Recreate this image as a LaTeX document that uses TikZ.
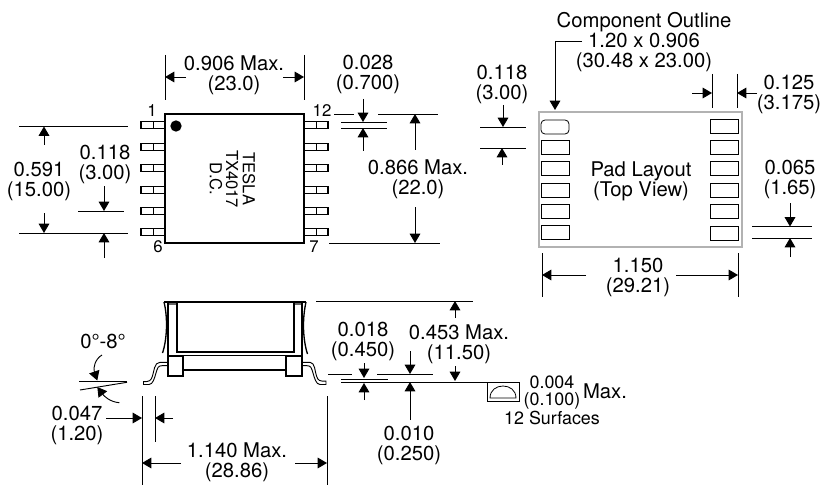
\documentclass[tikz,border=0pt]{standalone}
\usepackage{fontspec}
\setmainfont{TeX Gyre Heros}
\usetikzlibrary{arrows.meta}
\tikzset{
  dimtext/.style={align=center,inner sep=0pt,font=\fontsize{15.2}{15}\selectfont},
  smalltext/.style={align=center,inner sep=0pt,font=\fontsize{13.4}{12.6}\selectfont},
  chiptext/.style={inner sep=0pt,font=\fontsize{12.4}{12.4}\selectfont},
  pintext/.style={inner sep=0pt,font=\fontsize{12.6}{12.6}\selectfont},
  dimline/.style={line width=0.7pt},
  dimarrow/.style={line width=0.7pt,-{Triangle[length=7pt,width=8pt]}},
  bodyline/.style={line width=1pt},
  solderpad/.style={shape=rectangle,draw=black,line width=1pt,inner sep=0pt,minimum width=18pt,minimum height=5.25pt,
    path picture={\draw[line width=0.5pt] (path picture bounding box.north) -- (path picture bounding box.south);}},
  layoutpad/.style={shape=rectangle,draw=black,line width=0.6pt,inner sep=0pt,minimum width=21pt,minimum height=10.5pt},
}
\begin{document}
\begin{tikzpicture}[x=0.75pt,y=-0.75pt]
    \useasboundingbox (0,0) rectangle (822,485);
    % top view of the part
    \node[shape=rectangle,draw=black,bodyline,minimum width=104.25pt,minimum height=96.75pt] (body) at (234.5,178.5) {};
    \node[shape=circle,fill=black,inner sep=0pt,minimum size=8.5pt] (dot) at (176,126) {};
    \node[rotate=-90,chiptext] (tesla) at (249,179) {TESLA};
    \node[rotate=-90,chiptext] (tx) at (232,179) {TX4017};
    \node[rotate=-90,chiptext] (dc) at (216,179) {D.C.};
    \node[solderpad] (L1) at (153,125) {};
    \node[solderpad] (L2) at (153,147) {};
    \node[solderpad] (L3) at (153,168) {};
    \node[solderpad] (L4) at (153,190) {};
    \node[solderpad] (L5) at (153,211) {};
    \node[solderpad] (L6) at (153,232) {};
    \node[solderpad] (R1) at (316,125) {};
    \node[solderpad] (R2) at (316,147) {};
    \node[solderpad] (R3) at (316,168) {};
    \node[solderpad] (R4) at (316,190) {};
    \node[solderpad] (R5) at (316,211) {};
    \node[solderpad] (R6) at (316,232) {};
    \node[pintext] (pinA) at (152,111) {1};
    \node[pintext] (pinB) at (158,247) {6};
    \node[pintext] (pinC) at (322,111) {12};
    \node[pintext] (pinD) at (314,247) {7};
    % dimensions of the top view
    \node[dimtext] (w1) at (234,75) {0.906 Max.\\(23.0)};
    \coordinate (w1a) at (165,55);
    \coordinate (w1b) at (165,100);
    \coordinate (w1c) at (304,55);
    \coordinate (w1d) at (304,100);
    \coordinate (w1e) at (186,77);
    \coordinate (w1f) at (165,77);
    \coordinate (w1g) at (283,77);
    \coordinate (w1h) at (304,77);
    \path [dimline] (w1a) edge node {} (w1b);
    \path [dimline] (w1c) edge node {} (w1d);
    \path [dimarrow] (w1e) edge node {} (w1f);
    \path [dimarrow] (w1g) edge node {} (w1h);
    \node[dimtext] (h1) at (39,181) {0.591\\(15.00)};
    \coordinate (h1a) at (19,126.5);
    \coordinate (h1b) at (128,126.5);
    \coordinate (h1c) at (19,233);
    \coordinate (h1d) at (128,233);
    \coordinate (h1e) at (44,145);
    \coordinate (h1f) at (44,126.5);
    \coordinate (h1g) at (44,213);
    \coordinate (h1h) at (44,233);
    \path [dimline] (h1a) edge node {} (h1b);
    \path [dimline] (h1c) edge node {} (h1d);
    \path [dimarrow] (h1e) edge node {} (h1f);
    \path [dimarrow] (h1g) edge node {} (h1h);
    \node[dimtext] (p1) at (105,164) {0.118\\(3.00)};
    \coordinate (p1a) at (78,211);
    \coordinate (p1b) at (124,211);
    \coordinate (p1c) at (104,186);
    \coordinate (p1d) at (104,211);
    \coordinate (p1e) at (104,258);
    \coordinate (p1f) at (104,233);
    \path [dimline] (p1a) edge node {} (p1b);
    \path [dimarrow] (p1c) edge node {} (p1d);
    \path [dimarrow] (p1e) edge node {} (p1f);
    \node[dimtext] (t1) at (368,74) {0.028\\(0.700)};
    \coordinate (t1a) at (341,122);
    \coordinate (t1b) at (387,122);
    \coordinate (t1c) at (341,128);
    \coordinate (t1d) at (387,128);
    \coordinate (t1e) at (363,99);
    \coordinate (t1f) at (363,122);
    \coordinate (t1g) at (363,151);
    \coordinate (t1h) at (363,128);
    \path [dimline] (t1a) edge node {} (t1b);
    \path [dimline] (t1c) edge node {} (t1d);
    \path [dimarrow] (t1e) edge node {} (t1f);
    \path [dimarrow] (t1g) edge node {} (t1h);
    \node[dimtext] (h2) at (418,179) {0.866 Max.\\(22.0)};
    \coordinate (h2a) at (334,114);
    \coordinate (h2b) at (354,114);
    \coordinate (h2c) at (378,114);
    \coordinate (h2d) at (438,114);
    \coordinate (h2e) at (329,243);
    \coordinate (h2f) at (440,243);
    \coordinate (h2g) at (415,150);
    \coordinate (h2h) at (415,114);
    \coordinate (h2i) at (415,207);
    \coordinate (h2j) at (415,243);
    \path [dimline] (h2a) edge node {} (h2b);
    \path [dimline] (h2c) edge node {} (h2d);
    \path [dimline] (h2e) edge node {} (h2f);
    \path [dimarrow] (h2g) edge node {} (h2h);
    \path [dimarrow] (h2i) edge node {} (h2j);
    % pad layout
    \node[shape=rectangle,draw=black!30,line width=0.8pt,minimum width=152.25pt,minimum height=101.25pt] (outline) at (640.5,179.5) {};
    \node[dimtext] (padtext) at (641,181) {Pad Layout\\(Top View)};
    \node[layoutpad,rounded corners=3pt] (A1) at (555,127) {};
    \node[layoutpad] (A2) at (555,147) {};
    \node[layoutpad] (A3) at (555,168.5) {};
    \node[layoutpad] (A4) at (555,190) {};
    \node[layoutpad] (A5) at (555,211) {};
    \node[layoutpad] (A6) at (555,232) {};
    \node[layoutpad] (B1) at (724.5,126) {};
    \node[layoutpad] (B2) at (724.5,147) {};
    \node[layoutpad] (B3) at (724.5,168.5) {};
    \node[layoutpad] (B4) at (724.5,190) {};
    \node[layoutpad] (B5) at (724.5,211) {};
    \node[layoutpad] (B6) at (724.5,233) {};
    \node[dimtext] (comp) at (644,42.5) {Component Outline\\1.20 x 0.906\\(30.48 x 23.00)};
    \coordinate (compa) at (582,41);
    \coordinate (compb) at (555,41);
    \coordinate (compc) at (555,110);
    \draw[dimarrow] (compa) -- (compb) -- (compc);
    \node[dimtext] (p2) at (502,84.5) {0.118\\(3.00)};
    \coordinate (p2a) at (480,127);
    \coordinate (p2b) at (526,127);
    \coordinate (p2c) at (480,148);
    \coordinate (p2d) at (526,148);
    \coordinate (p2e) at (503,105);
    \coordinate (p2f) at (503,127);
    \coordinate (p2g) at (502,165);
    \coordinate (p2h) at (502,148);
    \path [dimline] (p2a) edge node {} (p2b);
    \path [dimline] (p2c) edge node {} (p2d);
    \path [dimarrow] (p2e) edge node {} (p2f);
    \path [dimarrow] (p2g) edge node {} (p2h);
    \node[dimtext] (g1) at (789,94) {0.125\\(3.175)};
    \coordinate (g1a) at (712,74);
    \coordinate (g1b) at (712,108);
    \coordinate (g1c) at (737,74);
    \coordinate (g1d) at (737,108);
    \coordinate (g1e) at (692,93);
    \coordinate (g1f) at (712,93);
    \coordinate (g1g) at (757,93);
    \coordinate (g1h) at (737,93);
    \path [dimline] (g1a) edge node {} (g1b);
    \path [dimline] (g1c) edge node {} (g1d);
    \path [dimarrow] (g1e) edge node {} (g1f);
    \path [dimarrow] (g1g) edge node {} (g1h);
    \node[dimtext] (g2) at (790,179.5) {0.065\\(1.65)};
    \coordinate (g2a) at (752,226.5);
    \coordinate (g2b) at (812,226.5);
    \coordinate (g2c) at (752,238);
    \coordinate (g2d) at (812,238);
    \coordinate (g2e) at (790,203);
    \coordinate (g2f) at (790,226.5);
    \coordinate (g2g) at (790,257);
    \coordinate (g2h) at (790,238);
    \path [dimline] (g2a) edge node {} (g2b);
    \path [dimline] (g2c) edge node {} (g2d);
    \path [dimarrow] (g2e) edge node {} (g2f);
    \path [dimarrow] (g2g) edge node {} (g2h);
    \node[dimtext] (w2) at (638,277) {1.150\\(29.21)};
    \coordinate (w2a) at (542,253);
    \coordinate (w2b) at (542,297);
    \coordinate (w2c) at (738,253);
    \coordinate (w2d) at (738,297);
    \coordinate (w2e) at (586,275);
    \coordinate (w2f) at (542,275);
    \coordinate (w2g) at (676,275);
    \coordinate (w2h) at (738,275);
    \path [dimline] (w2a) edge node {} (w2b);
    \path [dimline] (w2c) edge node {} (w2d);
    \path [dimarrow] (w2e) edge node {} (w2f);
    \path [dimarrow] (w2g) edge node {} (w2h);
    % side view
    \fill[black!60] (168,302) rectangle (177,305);
    \fill[black!60] (294,302) rectangle (302,305);
    \draw[line width=1.6pt] (164,302) -- (306,302);
    \draw[bodyline] (164,302) .. controls (168,318) and (167,340) .. (162.5,353);
    \draw[bodyline] (306,302) .. controls (302,320) and (303,340) .. (307.5,354);
    \draw[bodyline] (177,302) -- (177,352) -- (294,352) -- (294,302);
    \draw[bodyline] (168,302) -- (168,355);
    \draw[bodyline] (302,302) -- (302,355);
    \draw[line width=0.7pt] (168,355) -- (302,355);
    \draw[bodyline] (183,370) -- (286,370);
    \draw[bodyline] (168,356) rectangle (183,376);
    \draw[bodyline] (286,356) rectangle (302,376);
    \draw[line width=0.7pt] (168,362.3) -- (160,362.3) .. controls (154,362.3) and (154,372) .. (152.5,376) .. controls (151,381) and (149,381.7) .. (143.5,381.7) -- (143.5,384.5) -- (149,384.5) .. controls (153,384.5) and (154.5,378) .. (156,373) .. controls (157.5,368) and (158,365.7) .. (162,365.7) -- (168,365.7);
    \draw[line width=0.7pt] (302,362.3) -- (310,362.3) .. controls (315,362.3) and (315,372) .. (316.5,376) .. controls (318,381) and (320,381.2) .. (326,381.2) -- (326,384.5) -- (320,384.5) .. controls (316,384.5) and (314.5,378) .. (313,373) .. controls (311.5,368) and (311,365.7) .. (307,365.7) -- (302,365.7);
    % dimensions of the side view
    \node[dimtext] (ang) at (103,341) {0\char"00B0-8\char"00B0};
    \coordinate (anga) at (79,381.7);
    \coordinate (angb) at (127,381.7);
    \coordinate (angc) at (80,390);
    \coordinate (angd) at (127,382.3);
    \coordinate (ange) at (102,355);
    \coordinate (angf) at (97.3,380.5);
    \coordinate (angg) at (119.3,402.7);
    \coordinate (angh) at (97.3,387);
    \path [dimline] (anga) edge node {} (angb);
    \path [dimline] (angc) edge node {} (angd);
    \draw[dimarrow] (ange) .. controls (95,359) and (93,368) .. (angf);
    \draw[dimarrow] (angg) .. controls (110,402) and (104,396) .. (angh);
    \node[dimtext] (f1) at (77,425.5) {0.047\\(1.20)};
    \coordinate (f1a) at (142,396);
    \coordinate (f1b) at (142,485);
    \coordinate (f1c) at (155,396);
    \coordinate (f1d) at (155,442);
    \coordinate (f1e) at (106,418);
    \coordinate (f1f) at (142,418);
    \coordinate (f1g) at (173,418);
    \coordinate (f1h) at (155,418);
    \path [dimline] (f1a) edge node {} (f1b);
    \path [dimline] (f1c) edge node {} (f1d);
    \path [dimarrow] (f1e) edge node {} (f1f);
    \path [dimarrow] (f1g) edge node {} (f1h);
    \node[dimtext] (w3) at (237,462.5) {1.140 Max.\\(28.86)};
    \coordinate (w3a) at (327,396);
    \coordinate (w3b) at (327,485);
    \coordinate (w3c) at (181,463);
    \coordinate (w3d) at (142,463);
    \coordinate (w3e) at (295,463);
    \coordinate (w3f) at (327,463);
    \path [dimline] (w3a) edge node {} (w3b);
    \path [dimarrow] (w3c) edge node {} (w3d);
    \path [dimarrow] (w3e) edge node {} (w3f);
    \node[dimtext] (v1) at (459,344) {0.453 Max.\\(11.50)};
    \coordinate (v1a) at (316,301);
    \coordinate (v1b) at (473,301);
    \coordinate (v1c) at (341,382);
    \coordinate (v1d) at (487,382);
    \coordinate (v1e) at (455,318);
    \coordinate (v1f) at (455,301);
    \coordinate (v1g) at (455,366);
    \coordinate (v1h) at (455,381);
    \path [dimline] (v1a) edge node {} (v1b);
    \path [dimline] (v1c) edge node {} (v1d);
    \path [dimarrow] (v1e) edge node {} (v1f);
    \path [dimarrow] (v1g) edge node {} (v1h);
    \node[dimtext] (v2) at (363,341.5) {0.018\\(0.450)};
    \coordinate (v2a) at (341,379);
    \coordinate (v2b) at (388,379);
    \coordinate (v2c) at (328,374);
    \coordinate (v2d) at (352,374);
    \coordinate (v2e) at (377,374);
    \coordinate (v2f) at (433,374);
    \coordinate (v2g) at (364,363);
    \coordinate (v2h) at (364,378);
    \coordinate (v2i) at (364,400);
    \coordinate (v2j) at (364,383);
    \path [dimline] (v2a) edge node {} (v2b);
    \path [dimline] (v2c) edge node {} (v2d);
    \path [dimline] (v2e) edge node {} (v2f);
    \path [dimarrow] (v2g) edge node {} (v2h);
    \path [dimarrow] (v2i) edge node {} (v2j);
    \node[dimtext] (v3) at (409,445) {0.010\\(0.250)};
    \coordinate (v3a) at (410,351);
    \coordinate (v3b) at (410,374);
    \coordinate (v3c) at (410,420);
    \coordinate (v3d) at (410,382);
    \path [dimarrow] (v3a) edge node {} (v3b);
    \path [dimarrow] (v3c) edge node {} (v3d);
    % flatness symbol
    \node[shape=rectangle,draw=black,line width=0.7pt,inner sep=0pt,minimum width=24pt,minimum height=14.25pt] (flat) at (503,391.5) {};
    \draw[line width=0.6pt] (490,398) .. controls (490,382) and (516,382) .. (516,398) -- cycle;
    \node[smalltext] (flata) at (552,392.5) {0.004\\(0.100)};
    \node[dimtext] (flatb) at (605,391) {Max.};
    \node[smalltext] (flatc) at (552,418) {12 Surfaces};
\end{tikzpicture}
\end{document}
